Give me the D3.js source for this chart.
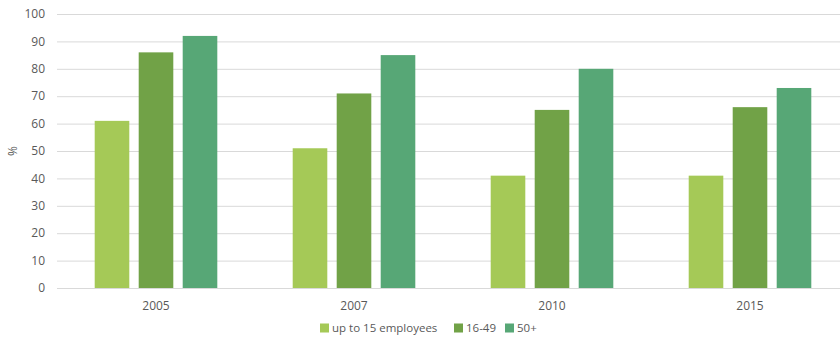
<!DOCTYPE html>
<html>
<head>
<meta charset="utf-8">
<script src="https://cdn.jsdelivr.net/npm/d3@7"></script>
<style>
  html, body { margin: 0; padding: 0; background: #fff; }
  svg { display: block; font-family: "Open Sans", "DejaVu Sans", sans-serif; }
</style>
</head>
<body>
<svg id="chart" width="840" height="342"></svg>
<script>
// Share (%) by firm size, per survey year
const years = ["2005", "2007", "2010", "2015"];
const seriesNames = ["up to 15 employees", "16-49", "50+"];
const smallFirms = [61, 51, 41, 41];
const midFirms = [86, 71, 65, 66];
const largeFirms = [92, 85, 80, 73];
const yTicks = [0, 10, 20, 30, 40, 50, 60, 70, 80, 90, 100];
const colors = ["#a5c957", "#71a247", "#57a776"];

const seriesValues = [smallFirms, midFirms, largeFirms];
const rows = years.map((y, i) => ({ year: y, values: seriesValues.map(s => s[i]) }));

const svg = d3.select("#chart");
const margin = { left: 57, top: 14, bottom: 288 };
const plotRight = 57 + 4 * 198;

const x = d3.scaleBand().domain(years).range([margin.left, plotRight]).paddingInner(0).paddingOuter(0);
const y = d3.scaleLinear().domain([0, 100]).range([margin.bottom, margin.top]);

// gridlines
svg.append("g")
  .selectAll("line")
  .data(yTicks)
  .join("line")
  .attr("x1", margin.left)
  .attr("x2", 840)
  .attr("y1", d => y(d) + 0.5)
  .attr("y2", d => y(d) + 0.5)
  .attr("stroke", "#d9d9d9")
  .attr("stroke-width", 1);

// y tick labels
svg.append("g")
  .selectAll("text")
  .data(yTicks)
  .join("text")
  .attr("x", 45)
  .attr("y", d => y(d))
  .attr("dy", "0.35em")
  .attr("text-anchor", "end")
  .attr("font-size", 12)
  .attr("fill", "#595959")
  .text(d => d);

// y axis title
svg.append("text")
  .attr("transform", `translate(17,${(margin.top + margin.bottom) / 2}) rotate(-90)`)
  .attr("text-anchor", "middle")
  .attr("font-size", 12)
  .attr("fill", "#595959")
  .text("%");

// bars
const barW = 34.6, barStep = 44;
const inner = d3.scaleLinear().domain([0, 2]).range([-barStep, barStep]);

const groups = svg.append("g")
  .selectAll("g")
  .data(rows)
  .join("g")
  .attr("transform", d => `translate(${x(d.year) + x.bandwidth() / 2},0)`);

groups.selectAll("rect")
  .data(d => d.values.map((v, k) => ({ v, k })))
  .join("rect")
  .attr("x", d => inner(d.k) - barW / 2)
  .attr("y", d => y(d.v))
  .attr("width", barW)
  .attr("height", d => y(0) - y(d.v))
  .attr("fill", d => colors[d.k]);

// x tick labels
svg.append("g")
  .selectAll("text")
  .data(years)
  .join("text")
  .attr("x", d => x(d) + x.bandwidth() / 2)
  .attr("y", 306)
  .attr("dy", "0.35em")
  .attr("text-anchor", "middle")
  .attr("font-size", 12)
  .attr("fill", "#595959")
  .text(d => d);

// legend
const legendX = [320, 454, 505];
const legend = svg.append("g")
  .selectAll("g")
  .data(seriesNames)
  .join("g")
  .attr("transform", (d, i) => `translate(${legendX[i]},328)`);

legend.append("rect")
  .attr("x", 0).attr("y", -4.5)
  .attr("width", 9).attr("height", 9)
  .attr("fill", (d, i) => colors[i]);

legend.append("text")
  .attr("x", 12)
  .attr("y", 0)
  .attr("dy", "0.35em")
  .attr("font-size", 11.5)
  .attr("fill", "#595959")
  .text(d => d);
</script>
</body>
</html>
